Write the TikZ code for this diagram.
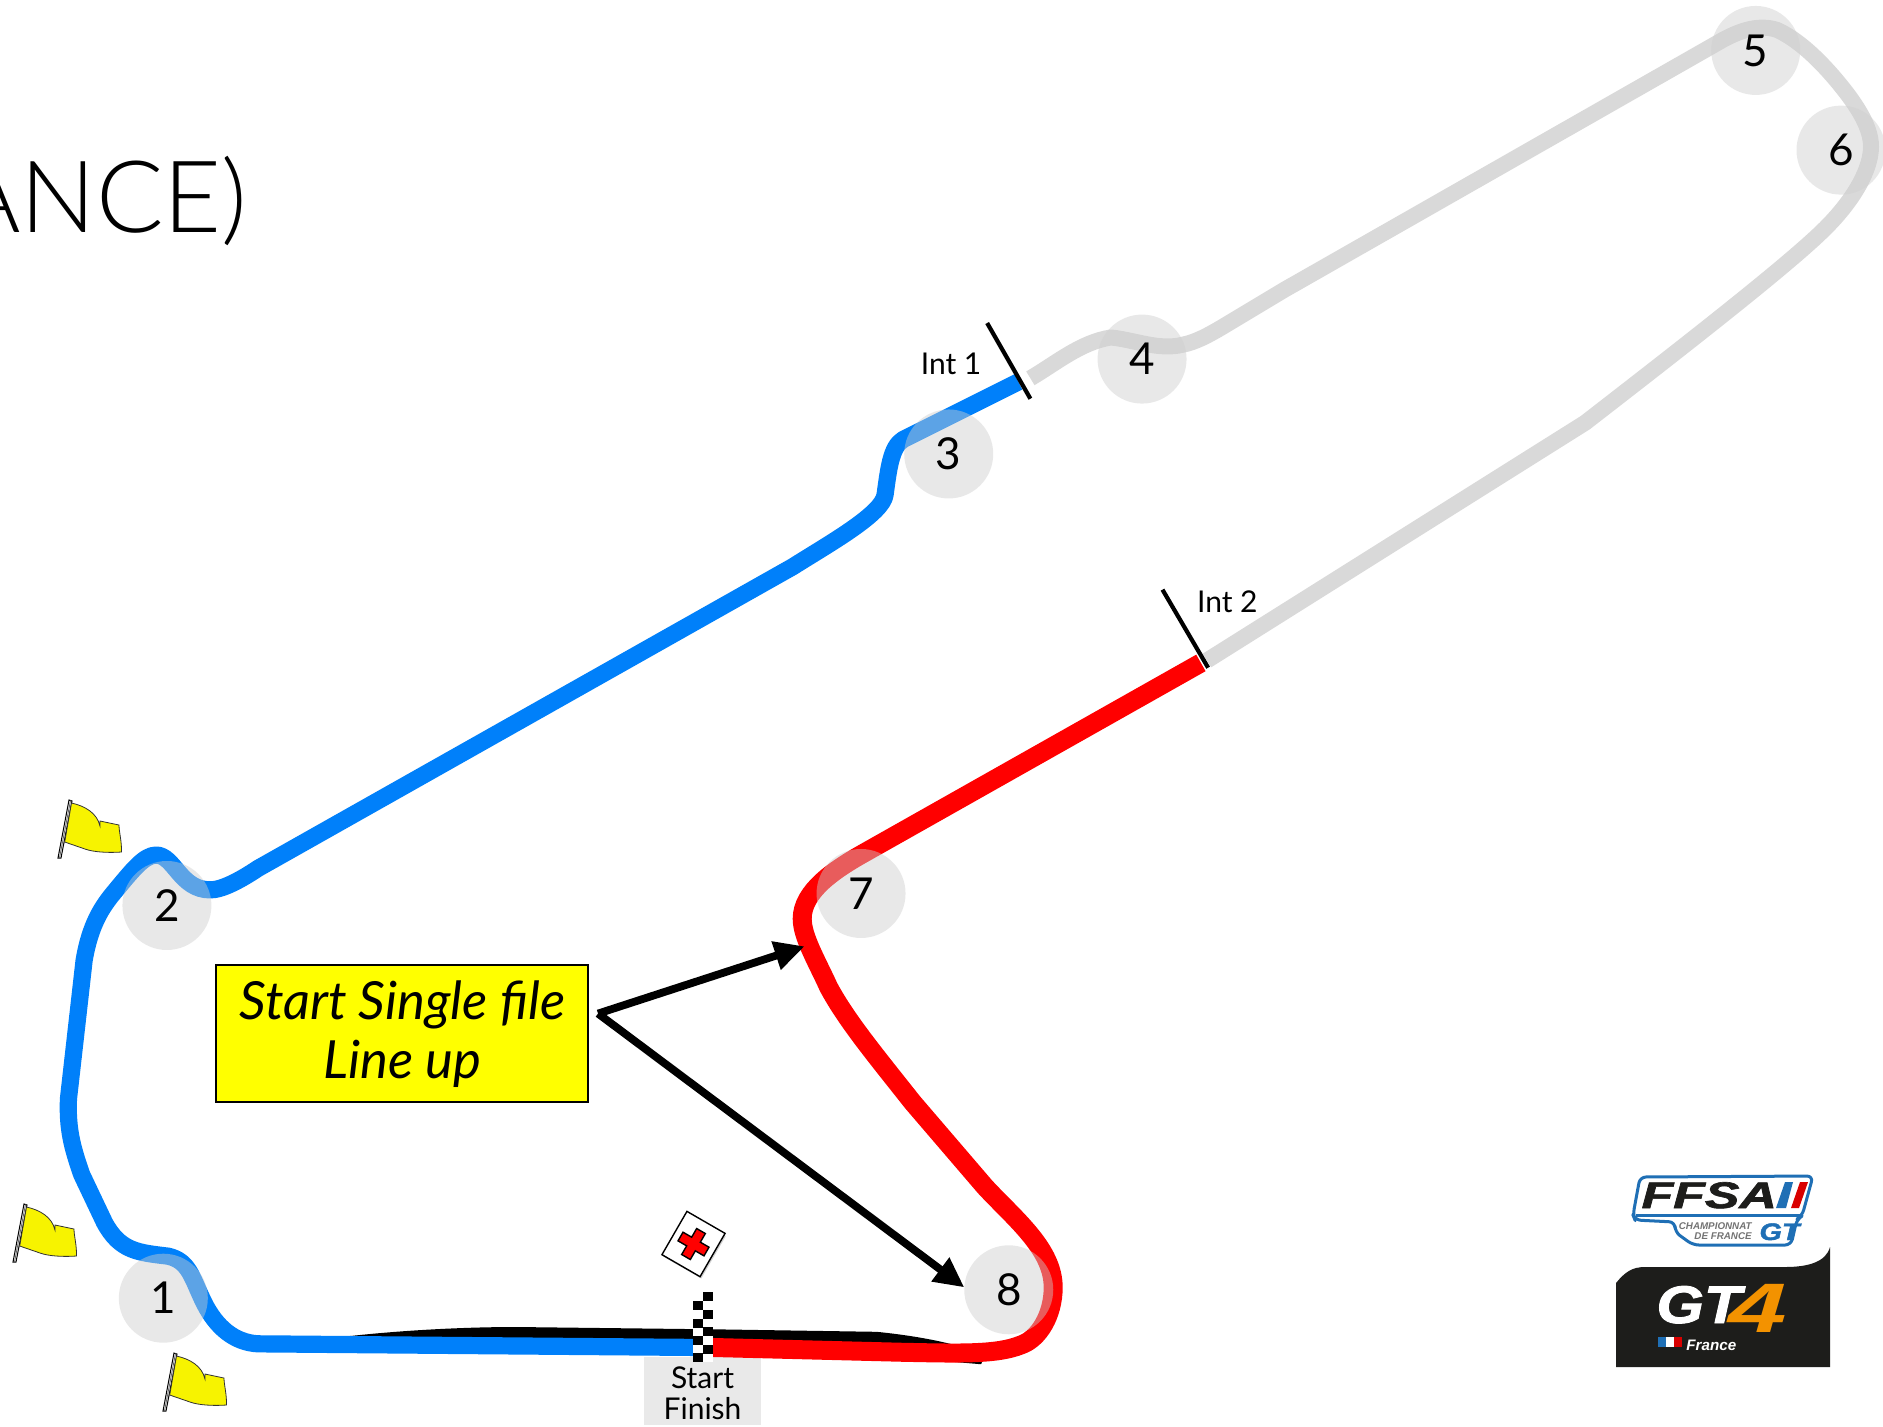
\documentclass[tikz,border=0pt]{standalone}
\usepackage{fontspec}
\setmainfont{Lato}
\newfontfamily\thinfont{Lato Light}
\newfontfamily\logofont{Liberation Sans}
\newcommand{\heavy}{\addfontfeature{FakeBold=1.6}}
\usetikzlibrary{arrows.meta}
\definecolor{trackblue}{HTML}{0080FA}
\definecolor{trackgray}{HTML}{D9D9D9}
\definecolor{turncircle}{HTML}{CECECE}
\definecolor{flagyellow}{HTML}{F7F300}
\definecolor{boxyellow}{HTML}{FFFF00}
\definecolor{logoblue}{HTML}{1F6FB5}
\definecolor{logoblack}{HTML}{1D1D1B}
\definecolor{logoorange}{HTML}{F39200}
\tikzset{
  trackline/.style={line width=#1,line join=round,line cap=butt},
  turn/.style={circle,fill=turncircle,fill opacity=.45,text opacity=1,minimum size=44.5pt,inner sep=0pt,font=\fontsize{22}{22}\selectfont},
  tick/.style={line width=2.1pt,black},
  small/.style={font=\fontsize{15}{15.6}\selectfont,inner sep=0pt},
  callarrow/.style={line width=3.9pt,-{Triangle[length=15pt,width=14pt]}},
  yflagshape/.style={fill=flagyellow,draw=black!80,line width=.4pt},
  checker/.style={fill=black,draw=none},
  logotxt/.style={font=\logofont\bfseries\itshape,inner sep=0pt,transform shape},
}
\newcommand{\yflag}[1]{%
  \begin{scope}[shift={#1}]
    \fill[white,draw=black,line width=.5pt] (0,58) -- (11,0) -- (14,1) -- (3,58) -- cycle;
    \draw[black!60,line width=.4pt] (1.5,58) -- (12.5,.5);
    \path[yflagshape] (13.5,3) .. controls (27,6) and (39,13) .. (42,26) -- (42,21) -- (61,25)
      .. controls (61,32) and (64,42) .. (63.4,52) .. controls (50,53) and (35,52) .. (27,49) -- (6.7,42) -- cycle;
  \end{scope}}
\newcommand{\sqr}[2]{\fill[checker] (#1,#2) rectangle ++(10,8.8);}
\begin{document}
\begin{tikzpicture}[x=.5pt,y=-.5pt]
\useasboundingbox (0,0) rectangle (1883,1426);
\clip (0,0) rectangle (1883,1426);
\fill[white] (0,0) rectangle (1883,1426);
% title fragment
\node[anchor=base east,inner sep=0pt,font=\thinfont\fontsize{50}{50}\selectfont] (title) at (248,232) {ANCE)};
\begin{scope}[x=.60045pt,y=-.60045pt]
  % start/finish plate
  \fill[turncircle!45!white] (536,1130) rectangle (634,1187);
  \node[small,align=center] (sf) at (585,1160) {Start\\Finish};
  % black wedge under the straight
  \fill[black] (250,1118) .. controls (300,1110) and (370,1105) .. (430,1105) -- (600,1107) -- (730,1109)
     .. controls (770,1113) and (800,1120) .. (820,1128) -- (817,1136) -- (700,1126) -- (250,1123) -- cycle;
  % sectors
  \draw[trackline=8.6pt,trackblue] (578,1122) -- (215,1119)
    .. controls (195,1118) and (180,1105) .. (170,1085)
    .. controls (160,1065) and (158,1050) .. (140,1046)
    .. controls (115,1043) and (100,1042) .. (87,1018) -- (68,978)
    .. controls (60,955) and (56,940) .. (57,915) -- (70,800)
    .. controls (75,770) and (85,755) .. (95,743)
    .. controls (110,725) and (120,712) .. (130,712)
    .. controls (145,712) and (150,741) .. (175,741)
    .. controls (185,741) and (200,733) .. (215,723) -- (660,472)
    .. controls (690,453) and (735,428) .. (737,412)
    .. controls (740,390) and (742,372) .. (752,366) -- (848,318);
  \draw[trackline=8pt,trackgray] (858,315)
    .. controls (880,302) and (900,285) .. (925,281)
    .. controls (945,283) and (965,292) .. (985,287)
    .. controls (995,285) and (1005,280) .. (1020,271) -- (1070,241) -- (1435,33)
    .. controls (1450,25) and (1465,20) .. (1480,25)
    .. controls (1495,32) and (1510,45) .. (1525,62)
    .. controls (1545,85) and (1558,105) .. (1558,122)
    .. controls (1558,140) and (1545,165) .. (1520,190)
    .. controls (1490,220) and (1400,290) .. (1320,352) -- (1005,550);
  \draw[trackline=9.5pt,red] (1000,552) -- (720,710)
    .. controls (695,724) and (668,742) .. (668,765)
    .. controls (668,780) and (680,800) .. (690,822)
    .. controls (705,850) and (730,880) .. (760,918) -- (820,988)
    .. controls (845,1015) and (877,1040) .. (877,1072)
    .. controls (877,1095) and (865,1115) .. (850,1120)
    .. controls (830,1128) and (800,1127) .. (750,1126) -- (592,1122);
  % turn markers
  \node[turn] (t1) at (136,1081) {1};
  \node[turn] (t2) at (139,754) {2};
  \node[turn] (t3) at (790,378) {3};
  \node[turn] (t4) at (951,299) {4};
  \node[turn] (t5) at (1462,42) {5};
  \node[turn] (t6) at (1533,125) {6};
  \node[turn] (t7) at (717,744) {7};
  \node[turn] (t8) at (840,1074) {8};
  % intermediates
  \coordinate (i1a) at (822,269); \coordinate (i1b) at (858,332);
  \coordinate (i2a) at (968,491); \coordinate (i2b) at (1006,556);
  \draw[tick] (i1a) -- (i1b);
  \draw[tick] (i2a) -- (i2b);
  \node[small] (int1) at (792,303) {Int 1};
  \node[small] (int2) at (1022,501) {Int 2};
  % call-out
  \node[draw=black,line width=1pt,fill=boxyellow,minimum width=186pt,minimum height=68.5pt,inner sep=0pt,align=center,
        font=\itshape\fontsize{26.3}{29.5}\selectfont] (box) at (335,861) {Start Single file\\Line up};
  \coordinate (src1) at (498,844);
  \coordinate (dst7) at (670,788);
  \coordinate (dst8) at (803,1072);
  \draw[callarrow] (src1) -- (dst7);
  \draw[callarrow] (src1) -- (dst8);
\end{scope}
% flags
\yflag{(58,800)}
\yflag{(13,1204)}
\yflag{(163,1353)}
% medical post
\begin{scope}[shift={(693.5,1244)},rotate=-30]
  \fill[black!18] (-20,-23) rectangle (24,26);
  \path[draw=black,fill=white,line width=.7pt] (-22,-25) rectangle (22,25);
  \path[draw=black,fill=red,line width=.7pt] (-5,-15) -- (5,-15) -- (5,-5) -- (15,-5) -- (15,5) -- (5,5) -- (5,15) -- (-5,15) -- (-5,5) -- (-15,5) -- (-15,-5) -- (-5,-5) -- cycle;
\end{scope}
% chequered line
\fill[white] (693,1327) rectangle (713,1362);
\sqr{703}{1292}\sqr{693}{1301}\sqr{703}{1310}\sqr{693}{1319}\sqr{703}{1327}\sqr{693}{1336}\sqr{703}{1345}\sqr{693}{1353}
% FFSA logo
\path[draw=logoblue,line width=1.5pt,fill=white,line join=round,rounded corners=3pt]
  (1640,1177) -- (1813,1176) -- (1802,1216) -- (1797,1219) -- (1791,1245) -- (1693,1245) -- (1675,1232) -- (1675,1222) -- (1635,1220) -- (1633,1215) -- cycle;
\draw[logoblue,line width=1.5pt] (1636,1215) -- (1800,1215);
\node[logotxt,text=logoblack,font=\logofont\bfseries\itshape\heavy\fontsize{18.5}{18.5}\selectfont,xscale=1.4,anchor=base west] (ffsa) at (1641,1208) {FFSA};
\fill[logoblue] (1785,1182) -- (1793,1182) -- (1786,1208) -- (1776,1208) -- cycle;
\fill[red!85!black] (1800,1182) -- (1808,1182) -- (1799,1208) -- (1791,1208) -- cycle;
\node[logotxt,text=black!55,font=\logofont\bfseries\itshape\fontsize{4.9}{4.7}\selectfont,align=right,anchor=east] (champ) at (1752,1231) {CHAMPIONNAT\\DE FRANCE};
\node[logotxt,text=logoblue,font=\logofont\bfseries\itshape\heavy\fontsize{12}{12}\selectfont,xscale=1.2,anchor=base west] (lgt) at (1759,1240) {GT};
% GT4 logo
\path[fill=logoblack] (1616,1367) -- (1616,1283) .. controls (1625,1272) and (1632,1267) .. (1645,1267)
  -- (1785,1267) .. controls (1808,1267) and (1826,1262) .. (1830,1247) -- (1830,1367) -- cycle;
\node[logotxt,text=white,font=\logofont\bfseries\itshape\heavy\fontsize{26.5}{26.5}\selectfont,xscale=1.15,anchor=base west] (gt) at (1656,1323) {GT};
\node[logotxt,text=logoorange,font=\logofont\bfseries\itshape\fontsize{35}{35}\selectfont,xscale=1.5,anchor=base west] (four) at (1728,1332) {4};
\fill[logoblue] (1658,1337) rectangle (1666,1347);
\fill[white] (1666,1337) rectangle (1674,1347);
\fill[red!85!black] (1674,1337) rectangle (1682,1347);
\node[logotxt,text=white,font=\logofont\bfseries\itshape\fontsize{7.6}{7.6}\selectfont,anchor=base west] (fr) at (1686,1350) {France};
\end{tikzpicture}
\end{document}
